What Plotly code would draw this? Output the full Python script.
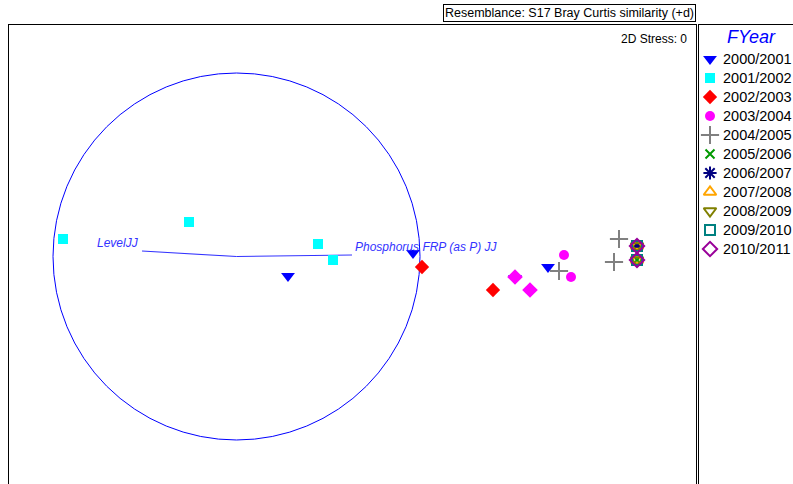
"""nMDS ordination plot with vector overlay, recreated with Plotly."""

import plotly.graph_objects as go

# ordination coordinates per financial year
years = ["2000/2001", "2001/2002", "2002/2003", "2003/2004", "2004/2005", "2005/2006",
         "2006/2007", "2007/2008", "2008/2009", "2009/2010", "2010/2011"]
x_vals = [
    [-0.62, 0.63, 1.98, 1.65],
    [-2.87, -1.61, -0.32, -0.17],
    [0.72, 1.43],
    [2.14, 2.21, 1.65, 1.80],
    [2.09, 2.69, 2.64],
    [2.87],
    [2.87],
    [2.87, 2.87],
    [2.87, 2.87],
    [2.87, 2.87],
    [2.87, 2.87],
]
y_vals = [
    [-0.20, 0.03, -0.11, -0.22],
    [0.17, 0.34, 0.12, -0.04],
    [-0.11, -0.34],
    [0.01, -0.21, -0.21, -0.34],
    [-0.15, 0.17, -0.06],
    [-0.04],
    [0.10],
    [0.10, -0.04],
    [0.10, -0.04],
    [0.10, -0.04],
    [0.10, -0.04],
]

# vector overlay
circle_centre = (-1.135, -0.005)
circle_radius = 1.835
vector_names = ["LevelJJ", "Phosphorus FRP (as P) JJ"]
vector_x = [-2.08, 0.02]
vector_y = [0.05, 0.01]

symbols = ["triangle-down", "square", "diamond", "circle", "cross-thin-open", "x-thin-open",
           "asterisk-open", "triangle-up-open", "triangle-down-open", "square-open", "diamond-open"]
colors = ["#0000FF", "#00FFFF", "#FF0000", "#FF00FF", "#808080", "#009900",
          "#000080", "#FFA500", "#808000", "#008080", "#990099"]
sizes = [12, 10, 11, 10, 13, 9, 11, 11, 11, 10, 11]

fig = go.Figure()

# circle and vectors (drawn under the points)
cx, cy = circle_centre
fig.add_shape(type="circle", xref="x", yref="y",
              x0=cx - circle_radius, x1=cx + circle_radius,
              y0=cy - circle_radius, y1=cy + circle_radius,
              line=dict(color="#0000FF", width=1), layer="below")
for name, vx, vy in zip(vector_names, vector_x, vector_y):
    fig.add_trace(go.Scatter(x=[cx, vx], y=[cy, vy], mode="lines",
                             line=dict(color="#3333FF", width=1.2),
                             showlegend=False, hoverinfo="skip"))

for i, yr in enumerate(years):
    sym, size = symbols[i], sizes[i]
    if yr == "2003/2004":
        # two of the points are drawn as diamonds in the original
        sym = ["circle", "circle", "diamond", "diamond"]
        size = [10, 10, 12, 12]
    open_marker = symbols[i].endswith("open")
    mk = dict(symbol=sym, size=size, color=colors[i], opacity=1,
              line=dict(color=colors[i], width=2 if open_marker else 0))
    fig.add_trace(go.Scatter(x=x_vals[i], y=y_vals[i], mode="markers", name=yr,
                             marker=mk, showlegend=False))
    # legend key, drawn on its own axis in the right-hand panel (pixel-like units)
    key = dict(mk, symbol=symbols[i], size=sizes[i])
    fig.add_trace(go.Scatter(x=[710], y=[59 + 19 * i], mode="markers", marker=key,
                             xaxis="x2", yaxis="y2", showlegend=False, hoverinfo="skip"))
    fig.add_annotation(x=721, y=59 + 19 * i, xref="x2", yref="y2", text=yr,
                       showarrow=False, xanchor="left", yanchor="middle",
                       font=dict(family="Liberation Sans", size=14.5, color="black"))

fig.add_annotation(x=751, y=37, xref="x2", yref="y2", text="<i>FYear</i>", showarrow=False,
                   xanchor="center", yanchor="middle",
                   font=dict(family="Liberation Sans", size=18, color="#0000FF"))

# vector labels
label_font = dict(family="Liberation Sans", size=12, color="#3333FF")
fig.add_annotation(x=vector_x[0], y=vector_y[0], text="<i>LevelJJ</i>", showarrow=False,
                   xanchor="right", yanchor="bottom", xshift=-1, yshift=-1, font=label_font)
fig.add_annotation(x=vector_x[1], y=vector_y[1], text="<i>Phosphorus FRP (as P) JJ</i>",
                   showarrow=False, xanchor="left", yanchor="bottom", xshift=1, yshift=-1,
                   font=label_font)

# stress and resemblance labels
fig.add_annotation(xref="paper", yref="paper", x=0.867, y=0.9695, text="2D Stress: 0",
                   showarrow=False, xanchor="right", yanchor="middle",
                   font=dict(family="Liberation Sans", size=12, color="black"))
fig.add_annotation(xref="paper", yref="paper", x=0.8763, y=1.027,
                   text="Resemblance: S17 Bray Curtis similarity (+d)",
                   showarrow=False, xanchor="right", yanchor="middle",
                   bordercolor="black", borderwidth=1, borderpad=1, bgcolor="white",
                   font=dict(family="Liberation Sans", size=12.5, color="black"))

axis_style = dict(showgrid=False, zeroline=False, showticklabels=False, ticks="",
                  showline=True, linecolor="black", linewidth=1, mirror=True, fixedrange=True)

fig.update_layout(
    width=793, height=484,
    margin=dict(l=9, r=0, t=25, b=0),
    paper_bgcolor="white", plot_bgcolor="white",
    font=dict(family="Liberation Sans", size=13, color="black"),
    showlegend=False,
    xaxis=dict(axis_style, domain=[0, 687 / 784], range=[-3.41, 3.46]),
    yaxis=dict(axis_style, range=[-2.28, 2.31]),
    xaxis2=dict(axis_style, domain=[690 / 784, 1.0], range=[699, 793], anchor="y2"),
    yaxis2=dict(axis_style, domain=[0, 1], range=[484, 25], anchor="x2"),
)

fig.write_html("out.html", config={"displayModeBar": False},
               post_script="document.body.style.margin='0px';")
